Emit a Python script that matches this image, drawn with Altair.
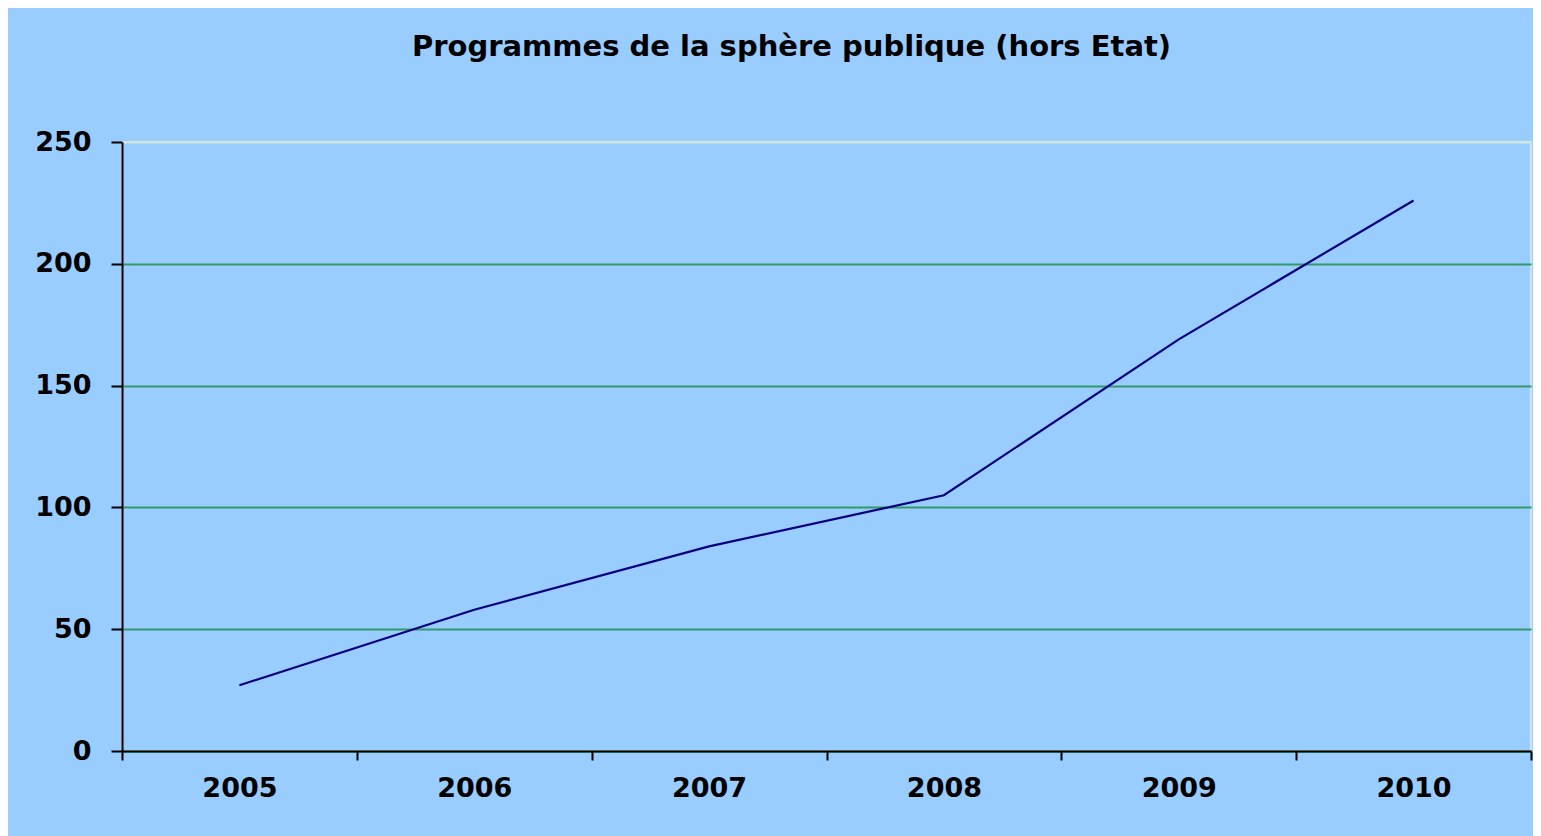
import altair as alt
import pandas as pd

years = ["2005", "2006", "2007", "2008", "2009", "2010"]
values = [27, 58, 84, 105, 169, 226]
y_ticks = [0, 50, 100, 150, 200, 250]
title_text = "Programmes de la sphère publique (hors Etat)"

df = pd.DataFrame({"year": years, "value": values})

FONT = "DejaVu Sans"

x_axis = alt.Axis(
    labelAngle=0, tickBand="extent", grid=False,
    domainColor="black", domainWidth=2,
    tickColor="black", tickWidth=2, tickSize=9,
    labelPadding=15, labelFont=FONT, labelFontSize=27,
    labelFontWeight="bold", labelColor="black",
)
y_axis = alt.Axis(
    values=y_ticks, grid=True,
    gridColor={"condition": {"test": "datum.value === 250", "value": "#d2e6dc"}, "value": "#339966"},
    gridWidth=2,
    domainColor="black", domainWidth=2,
    tickColor="black", tickWidth=2, tickSize=11,
    labelPadding=20, labelFont=FONT, labelFontSize=27,
    labelFontWeight="bold", labelColor="black",
)

chart = alt.Chart(df).mark_line(color="#000080", strokeWidth=2.2).encode(
    x=alt.X("year:O", title=None, bandPosition=0.5,
            scale=alt.Scale(type="band", paddingInner=0, paddingOuter=0),
            axis=x_axis),
    y=alt.Y("value:Q", title=None,
            scale=alt.Scale(domain=[0, 250], nice=False),
            axis=y_axis),
).properties(
    width=1409, height=609,
    background="#99CCFF",
    padding={"left": 114, "top": 134, "right": 2, "bottom": 85},
    autosize=alt.AutoSizeParams(type="none"),
    title=alt.TitleParams(
        text=title_text, font=FONT, fontSize=29, fontWeight="bold",
        color="black", anchor="middle", frame="group", dx=-35,
        offset=43, baseline="alphabetic",
    ),
).configure_view(fill="#99CCFF", stroke="#d4e4e4", strokeWidth=2)

chart.save("out.html", embed_options={"renderer": "svg", "actions": False})
